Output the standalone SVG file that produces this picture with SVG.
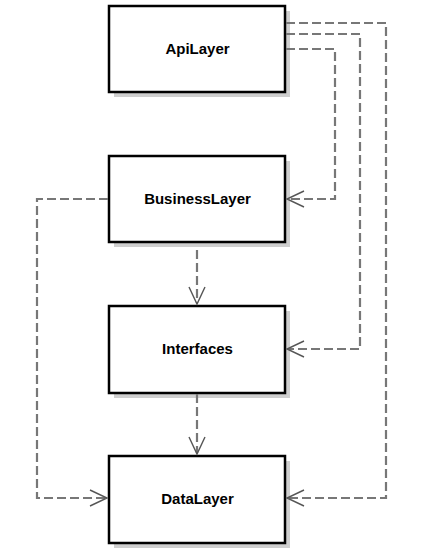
<svg xmlns="http://www.w3.org/2000/svg" width="430" height="555" viewBox="0 0 430 555">
<defs>
<style>
.box{fill:#fff;stroke:#000;stroke-width:2.5}
.shadow{fill:#cfcfcf}
.lbl{font-family:"Liberation Sans",Arial,sans-serif;font-weight:bold;font-size:15px;text-anchor:middle;fill:#000}
.dep{fill:none;stroke:#777;stroke-width:2.2;stroke-dasharray:9,4}
.head{fill:none;stroke:#555;stroke-width:1.4}
</style>
</defs>
<rect width="430" height="555" fill="#fff"/>
<g id="ApiLayer">
<rect class="shadow" x="114" y="11" width="176" height="86"/>
<rect class="box" x="109" y="6" width="176" height="86"/>
<text class="lbl" x="197.5" y="54">ApiLayer</text>
</g>
<g id="BusinessLayer">
<rect class="shadow" x="114" y="161" width="176" height="86"/>
<rect class="box" x="109" y="156" width="176" height="86"/>
<text class="lbl" x="197.5" y="204">BusinessLayer</text>
</g>
<g id="Interfaces">
<rect class="shadow" x="114" y="311" width="176" height="87"/>
<rect class="box" x="109" y="306" width="176" height="87"/>
<text class="lbl" x="197.5" y="354">Interfaces</text>
</g>
<g id="DataLayer">
<rect class="shadow" x="114" y="461" width="176" height="87"/>
<rect class="box" x="109" y="456" width="176" height="87"/>
<text class="lbl" x="197.5" y="504">DataLayer</text>
</g>
<g id="connectors">
<path class="dep" d="M286,49 H335 V199 H288"/>
<path class="head" d="M304,191 L287,199 L304,207"/>
<path class="dep" d="M286,34 H360 V349 H288"/>
<path class="head" d="M304,341 L287,349 L304,357"/>
<path class="dep" d="M286,23 H386 V498 H288"/>
<path class="head" d="M304,490 L287,498 L304,506"/>
<path class="dep" d="M108,199 H37 V498 H106"/>
<path class="head" d="M90,490 L107,498 L90,506"/>
<path class="dep" d="M197,250 V303"/>
<path class="head" d="M189,287 L197,304 L205,287"/>
<path class="dep" d="M197,394 V453"/>
<path class="head" d="M189,437 L197,454 L205,437"/>
</g>
</svg>
